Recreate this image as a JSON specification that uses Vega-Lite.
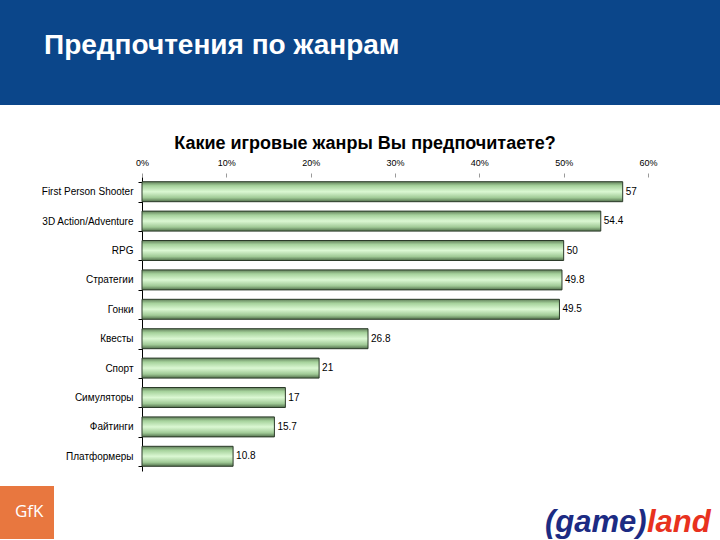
{
  "$schema": "https://vega.github.io/schema/vega-lite/v6.json",
  "padding": 0,
  "background": "white",
  "spacing": 15,
  "config": {
    "font": "Liberation Sans",
    "view": {"stroke": null}
  },
  "datasets": {
    "genres": [
      {"genre": "First Person Shooter", "pct": 57},
      {"genre": "3D Action/Adventure", "pct": 54.4},
      {"genre": "RPG", "pct": 50},
      {"genre": "Стратегии", "pct": 49.8},
      {"genre": "Гонки", "pct": 49.5},
      {"genre": "Квесты", "pct": 26.8},
      {"genre": "Спорт", "pct": 21},
      {"genre": "Симуляторы", "pct": 17},
      {"genre": "Файтинги", "pct": 15.7},
      {"genre": "Платформеры", "pct": 10.8}
    ]
  },
  "vconcat": [
    {
      "width": 720,
      "height": 105,
      "view": {"fill": "#0b468a", "stroke": null},
      "title": {
        "text": "Предпочтения по жанрам",
        "orient": "top",
        "anchor": "start",
        "frame": "group",
        "offset": -82,
        "dx": 44,
        "color": "#ffffff",
        "fontSize": 28,
        "fontWeight": "bold",
        "font": "Liberation Sans",
        "baseline": "alphabetic"
      },
      "data": {"values": []},
      "mark": "rect"
    },
    {
      "bounds": "flush",
      "spacing": 0,
      "hconcat": [
        {
          "width": 142,
          "height": 294,
          "data": {"values": []},
          "mark": "rect"
        },
        {
          "width": 506,
          "height": 294,
          "title": {
            "text": "Какие игровые жанры Вы предпочитаете?",
            "orient": "top",
            "anchor": "middle",
            "frame": "group",
            "offset": -47,
            "dx": -30,
            "color": "#000000",
            "fontSize": 18,
            "fontWeight": "bold",
            "font": "Liberation Sans",
            "baseline": "alphabetic"
          },
          "data": {"name": "genres"},
          "encoding": {
            "y": {
              "field": "genre",
              "type": "nominal",
              "sort": null,
              "scale": {"paddingInner": 0.32, "paddingOuter": 0.16},
              "axis": {
                "title": null,
                "grid": false,
                "domainColor": "#000000",
                "domainWidth": 1,
                "tickColor": "#000000",
                "tickSize": 4,
                "tickBand": "extent",
                "labelFontSize": 10,
                "labelColor": "#000000",
                "labelPadding": 5,
                "labelLimit": 200
              }
            },
            "x": {
              "field": "pct",
              "type": "quantitative",
              "scale": {"domain": [0, 60], "nice": false},
              "axis": {
                "orient": "top",
                "title": null,
                "grid": false,
                "domain": false,
                "values": [0, 10, 20, 30, 40, 50, 60],
                "labelExpr": "datum.value + '%'",
                "labelFlush": false,
                "tickSize": 4,
                "tickColor": "#9a9a9a",
                "labelPadding": 6,
                "labelFontSize": 9,
                "labelColor": "#000000",
                "minExtent": 57,
                "maxExtent": 57
              }
            }
          },
          "layer": [
            {
              "mark": {
                "type": "bar",
                "fill": {
                  "gradient": "linear",
                  "x1": 0, "y1": 0, "x2": 0, "y2": 1,
                  "stops": [
                    {"offset": 0, "color": "#62805b"},
                    {"offset": 0.2, "color": "#a6d29c"},
                    {"offset": 0.5, "color": "#dbf8d3"},
                    {"offset": 0.8, "color": "#a0ca96"},
                    {"offset": 1, "color": "#52704c"}
                  ]
                },
                "stroke": "#2b3a29",
                "strokeWidth": 1
              }
            },
            {
              "mark": {
                "type": "text",
                "align": "left",
                "baseline": "middle",
                "dx": 3,
                "fontSize": 10,
                "color": "#000000"
              },
              "encoding": {
                "text": {"field": "pct", "type": "quantitative"}
              }
            }
          ]
        }
      ]
    },
    {
      "spacing": 0,
      "hconcat": [
        {
          "width": 54,
          "height": 53,
          "view": {"fill": "#e8773f", "stroke": null},
          "title": {
            "text": "GfK",
            "orient": "top",
            "anchor": "start",
            "frame": "group",
            "offset": -48,
            "dx": 15,
            "color": "#ffffff",
            "fontSize": 17,
            "fontWeight": "normal",
            "font": "Open Sans",
            "baseline": "alphabetic"
          },
          "data": {"values": []},
          "mark": "rect"
        },
        {
          "width": 491,
          "height": 53,
          "data": {"values": []},
          "mark": "rect"
        },
        {
          "width": 101,
          "height": 53,
          "title": {
            "text": "(game)",
            "orient": "top",
            "anchor": "start",
            "frame": "group",
            "offset": -76.5,
            "dx": 0,
            "color": "#1c2b83",
            "fontSize": 31,
            "fontWeight": "bold",
            "fontStyle": "italic",
            "font": "Liberation Sans",
            "baseline": "alphabetic"
          },
          "data": {"values": []},
          "mark": "rect"
        },
        {
          "width": 68,
          "height": 53,
          "title": {
            "text": "land",
            "orient": "top",
            "anchor": "start",
            "frame": "group",
            "offset": -76.5,
            "dx": 0,
            "color": "#e8321e",
            "fontSize": 31,
            "fontWeight": "bold",
            "fontStyle": "italic",
            "font": "Liberation Sans",
            "baseline": "alphabetic"
          },
          "data": {"values": []},
          "mark": "rect"
        }
      ]
    }
  ]
}
